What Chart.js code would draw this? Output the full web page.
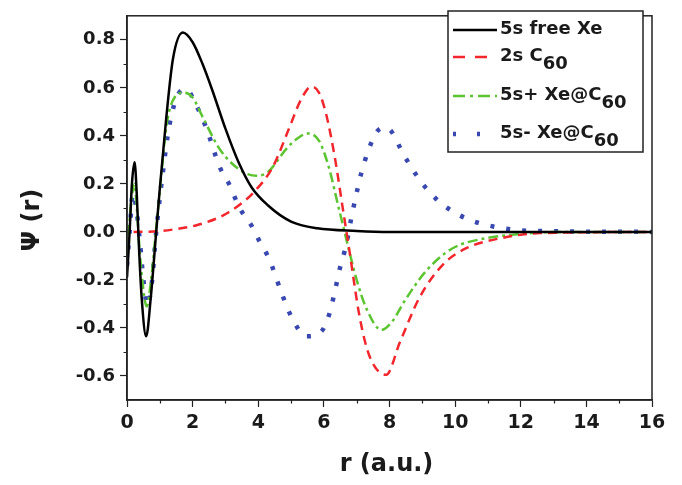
<!DOCTYPE html>
<html>
<head>
<meta charset="utf-8">
<script src="https://cdn.jsdelivr.net/npm/chart.js@4/dist/chart.umd.min.js"></script>
<style>
  html, body { margin: 0; padding: 0; background: #fff; }
  #wrap { width: 682px; height: 485px; position: relative; }
</style>
</head>
<body>
<div id="wrap"><canvas id="chart"></canvas></div>
<script>
// tick positions
const xTicks = [0, 2, 4, 6, 8, 10, 12, 14, 16];
const xMinor = [1, 3, 5, 7, 9, 11, 13, 15];
const yTicks = [-0.6, -0.4, -0.2, 0.0, 0.2, 0.4, 0.6, 0.8];
const yMinor = [-0.5, -0.3, -0.1, 0.1, 0.3, 0.5, 0.7];

// 5s free Xe
const rFree = [0, 0.08, 0.15, 0.23, 0.3, 0.36, 0.45, 0.585, 0.72, 0.89, 1.0, 1.2, 1.4, 1.7, 2.0, 2.3, 2.6, 3.0, 3.4, 3.8, 4.3, 5.0, 5.8, 7.0, 8.0, 16];
const psiFree = [-0.19, 0.0, 0.2, 0.29, 0.15, -0.05, -0.28, -0.435, -0.28, 0.0, 0.18, 0.48, 0.72, 0.83, 0.79, 0.7, 0.59, 0.43, 0.29, 0.185, 0.11, 0.043, 0.015, 0.004, 0, 0];

// 2s C60
const rC60 = [0.2, 1.0, 1.5, 2.1, 2.8, 3.1, 3.5, 3.85, 4.45, 4.95, 5.3, 5.62, 5.85, 6.07, 6.33, 6.58, 6.78, 7.09, 7.39, 7.9, 8.31, 8.92, 9.63, 10.34, 11.36, 12.6, 16];
const psiC60 = [0, 0.003, 0.012, 0.027, 0.06, 0.082, 0.12, 0.163, 0.272, 0.435, 0.55, 0.605, 0.58, 0.49, 0.313, 0.095, -0.08, -0.354, -0.517, -0.595, -0.462, -0.272, -0.136, -0.068, -0.027, -0.005, 0];

// 5s+ Xe@C60
const rPlus = [0, 0.08, 0.15, 0.23, 0.3, 0.36, 0.45, 0.6, 0.75, 0.88, 1.0, 1.2, 1.45, 1.75, 2.0, 2.3, 2.8, 3.2, 3.6, 3.95, 4.3, 4.85, 5.2, 5.5, 5.85, 6.15, 6.4, 6.63, 7.0, 7.3, 7.75, 8.1, 8.45, 9.1, 9.9, 10.9, 11.9, 13, 16];
const psiPlus = [-0.1, 0.05, 0.15, 0.2, 0.1, -0.03, -0.18, -0.31, -0.18, 0, 0.17, 0.44, 0.56, 0.58, 0.56, 0.48, 0.35, 0.285, 0.245, 0.234, 0.25, 0.345, 0.39, 0.41, 0.38, 0.27, 0.13, 0, -0.2, -0.32, -0.408, -0.37, -0.29, -0.165, -0.07, -0.027, -0.01, 0, 0];

// 5s- Xe@C60
const rMinus = [0, 0.08, 0.18, 0.3, 0.4, 0.5, 0.62, 0.75, 0.89, 1.09, 1.3, 1.55, 1.8, 2.1, 2.41, 2.82, 3.12, 3.43, 3.79, 4.04, 4.34, 4.7, 5.0, 5.46, 5.92, 6.17, 6.33, 6.48, 6.68, 6.84, 6.99, 7.14, 7.34, 7.6, 7.85, 8.05, 8.41, 8.71, 9.07, 9.43, 9.88, 10.49, 11.26, 12.2, 16];
const psiMinus = [-0.14, 0, 0.16, 0.08, -0.05, -0.2, -0.306, -0.22, 0, 0.245, 0.45, 0.57, 0.595, 0.53, 0.435, 0.272, 0.197, 0.1, 0.027, -0.04, -0.115, -0.25, -0.35, -0.435, -0.415, -0.34, -0.25, -0.156, -0.054, 0.061, 0.157, 0.245, 0.333, 0.415, 0.435, 0.42, 0.327, 0.259, 0.19, 0.136, 0.089, 0.048, 0.02, 0.005, 0];

const legendLabels = [
    { main: '5s free Xe', sub: '' },
    { main: '2s C', sub: '60' },
    { main: '5s+ Xe@C', sub: '60' },
    { main: '5s- Xe@C', sub: '60' }
];

const FONT = "'DejaVu Sans', sans-serif";
const INK = '#1a1a1a';

function pts(rs, ys) {
    return rs.map((r, i) => ({ x: r, y: ys[i] }));
}

const decorPlugin = {
    id: 'decor',
    afterDraw(chart) {
        const ctx = chart.ctx;
        const area = chart.chartArea;
        const xs = chart.scales.x;
        const ys = chart.scales.y;
        ctx.save();

        // frame
        ctx.strokeStyle = '#222';
        ctx.lineWidth = 1.5;
        ctx.strokeRect(area.left, area.top, area.right - area.left, area.bottom - area.top);

        // minor ticks
        ctx.lineWidth = 1.2;
        ctx.beginPath();
        yMinor.forEach(v => {
            const py = Math.round(ys.getPixelForValue(v)) + 0.5;
            ctx.moveTo(area.left - 3.5, py);
            ctx.lineTo(area.left, py);
        });
        xMinor.forEach(v => {
            const px = Math.round(xs.getPixelForValue(v)) + 0.5;
            ctx.moveTo(px, area.bottom);
            ctx.lineTo(px, area.bottom + 3.5);
        });
        ctx.stroke();

        // axis titles
        ctx.fillStyle = INK;
        ctx.font = 'bold 24px ' + FONT;
        ctx.textAlign = 'center';
        ctx.textBaseline = 'middle';
        ctx.fillText('r (a.u.)', (area.left + area.right) / 2 - 3, 465);
        ctx.save();
        ctx.translate(33, 220);
        ctx.rotate(-Math.PI / 2);
        ctx.fillText('\u03A8 (r)', 0, 0);
        ctx.restore();

        // legend box
        const bx = 448, by = 11, bw = 195, bh = 141;
        ctx.fillStyle = '#fff';
        ctx.fillRect(bx, by, bw, bh);
        ctx.strokeStyle = '#222';
        ctx.lineWidth = 1.5;
        ctx.strokeRect(bx, by, bw, bh);

        const rowY = [29, 56, 95, 133];
        chart.data.datasets.forEach((ds, i) => {
            const y = rowY[i];
            ctx.save();
            ctx.strokeStyle = ds.borderColor;
            ctx.lineWidth = ds.borderWidth;
            ctx.setLineDash(ds.legendDash || ds.borderDash || []);
            ctx.beginPath();
            ctx.moveTo(453, y + 1);
            ctx.lineTo(497, y + 1);
            ctx.stroke();
            ctx.restore();

            const lab = legendLabels[i];
            ctx.fillStyle = INK;
            ctx.font = 'bold 18px ' + FONT;
            ctx.textAlign = 'left';
            ctx.textBaseline = 'middle';
            ctx.fillText(lab.main, 500, y);
            if (lab.sub) {
                const w = ctx.measureText(lab.main).width;
                ctx.fillText(lab.sub, 500 + w, y + 8);
            }
        });
        ctx.restore();
    }
};

new Chart(document.getElementById('chart'), {
    type: 'line',
    data: {
        datasets: [
            {
                label: '5s free Xe',
                data: pts(rFree, psiFree),
                borderColor: '#000000',
                borderWidth: 2.5
            },
            {
                label: '2s C60',
                data: pts(rC60, psiC60),
                borderColor: '#f2262d',
                borderWidth: 2.5,
                borderDash: [9, 6],
                legendDash: [12, 10]
            },
            {
                label: '5s+ Xe@C60',
                data: pts(rPlus, psiPlus),
                borderColor: '#5cc431',
                borderWidth: 2.5,
                borderDash: [10, 4, 3, 4],
                legendDash: [12, 5, 3, 5]
            },
            {
                label: '5s- Xe@C60',
                data: pts(rMinus, psiMinus),
                borderColor: '#3848b0',
                borderWidth: 4.5,
                borderDash: [4, 12],
                legendDash: [3, 21]
            }
        ]
    },
    options: {
        responsive: true,
        maintainAspectRatio: false,
        animation: false,
        layout: { padding: { left: 0, right: 30, top: 6, bottom: 0 } },
        elements: {
            point: { radius: 0 },
            line: { cubicInterpolationMode: 'monotone', fill: false, borderCapStyle: 'butt' }
        },
        plugins: {
            legend: { display: false },
            tooltip: { enabled: false }
        },
        scales: {
            x: {
                type: 'linear',
                min: 0,
                max: 16,
                afterBuildTicks: s => { s.ticks = xTicks.map(v => ({ value: v })); },
                afterFit: s => { s.height = 85; },
                grid: { drawOnChartArea: false, tickLength: 7, tickColor: '#222', tickWidth: 1.2 },
                border: { display: true, color: '#222', width: 1.5 },
                ticks: {
                    color: INK,
                    font: { family: FONT, size: 19, weight: 'bold' },
                    padding: 5,
                    maxRotation: 0,
                    callback: v => String(v)
                }
            },
            y: {
                type: 'linear',
                min: -0.7,
                max: 0.9,
                afterBuildTicks: s => { s.ticks = yTicks.map(v => ({ value: v })); },
                afterFit: s => { s.width = 127; },
                grid: { drawOnChartArea: false, tickLength: 7, tickColor: '#222', tickWidth: 1.2 },
                border: { display: true, color: '#222', width: 1.5 },
                ticks: {
                    color: INK,
                    font: { family: FONT, size: 18, weight: 'bold' },
                    padding: 5,
                    callback: v => v.toFixed(1)
                }
            }
        }
    },
    plugins: [decorPlugin]
});
</script>
</body>
</html>
